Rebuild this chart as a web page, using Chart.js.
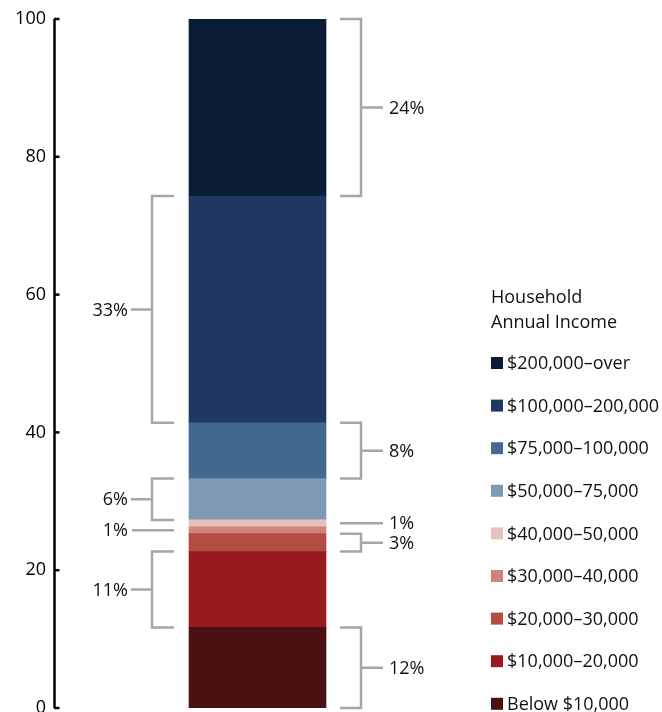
<!DOCTYPE html>
<html>
<head>
<meta charset="utf-8">
<script src="https://cdn.jsdelivr.net/npm/chart.js@4"></script>
<style>
  body { margin: 0; background: #fff; }
</style>
</head>
<body>
<canvas id="incomeChart" width="662" height="712"></canvas>
<script>
// segments listed bottom to top
const incomeLabels = ['Below $10,000', '$10,000–20,000', '$20,000–30,000', '$30,000–40,000',
                      '$40,000–50,000', '$50,000–75,000', '$75,000–100,000', '$100,000–200,000', '$200,000–over'];
const shareValues = [11.7, 11.0, 2.6, 1.0, 1.0, 6.0, 8.1, 32.9, 25.7];
const barColors = ['#4a1113', '#9a1b1f', '#b54c44', '#cd847e', '#e6c2bf',
                   '#7f9ab4', '#436990', '#1f3762', '#0b1d36'];
const yTicks = [0, 20, 40, 60, 80, 100];

// callouts, one per segment
const calloutTexts = ['12%', '11%', '3%', '1%', '1%', '6%', '8%', '33%', '24%'];
const calloutSides = ['right', 'left', 'right', 'left', 'right', 'left', 'right', 'left', 'right'];
const calloutKinds = ['bracket', 'bracket', 'bracket', 'line', 'line', 'bracket', 'bracket', 'bracket', 'bracket'];

const legendTitle = ['Household', 'Annual Income'];
const FONT = '"Open Sans", sans-serif';

const calloutPlugin = {
    id: 'callouts',
    afterDraw(chart) {
        const ctx = chart.ctx;
        const y = chart.scales.y;
        ctx.save();

        // axis line with inward ticks
        ctx.strokeStyle = '#000';
        ctx.lineWidth = 2.5;
        ctx.beginPath();
        ctx.moveTo(54.5, y.getPixelForValue(100));
        ctx.lineTo(54.5, y.getPixelForValue(0));
        ctx.stroke();
        ctx.lineWidth = 2.5;
        yTicks.forEach(function(t) {
            const py = y.getPixelForValue(t);
            ctx.beginPath();
            ctx.moveTo(54, py);
            ctx.lineTo(59.5, py);
            ctx.stroke();
        });

        // brackets
        ctx.strokeStyle = '#a6a6a6';
        ctx.lineWidth = 2.5;
        ctx.fillStyle = '#111';
        ctx.font = '18px ' + FONT;
        ctx.textBaseline = 'middle';
        let base = 0;
        shareValues.forEach(function(v, i) {
            const top = y.getPixelForValue(base + v);
            const bottom = y.getPixelForValue(base);
            const mid = (top + bottom) / 2;
            base += v;
            const left = calloutSides[i] === 'left';
            ctx.beginPath();
            if (calloutKinds[i] === 'line') {
                if (left) { ctx.moveTo(174, mid); ctx.lineTo(132, mid); }
                else { ctx.moveTo(340, mid); ctx.lineTo(383, mid); }
            } else if (left) {
                ctx.moveTo(174, top); ctx.lineTo(152, top); ctx.lineTo(152, bottom); ctx.lineTo(174, bottom);
                ctx.moveTo(152, mid); ctx.lineTo(131, mid);
            } else {
                ctx.moveTo(340, top); ctx.lineTo(361, top); ctx.lineTo(361, bottom); ctx.lineTo(340, bottom);
                ctx.moveTo(361, mid); ctx.lineTo(383, mid);
            }
            ctx.stroke();
            ctx.textAlign = left ? 'right' : 'left';
            ctx.fillText(calloutTexts[i], left ? 128 : 389, mid + 1);
        });

        // legend, top item first
        ctx.textAlign = 'left';
        ctx.fillStyle = '#111';
        ctx.fillText(legendTitle[0], 491, 298);
        ctx.fillText(legendTitle[1], 491, 323);
        for (let k = 0; k < incomeLabels.length; k++) {
            const i = incomeLabels.length - 1 - k;
            const cy = 363 + k * 42.6;
            ctx.fillStyle = barColors[i];
            ctx.fillRect(491, cy - 6, 12, 12);
            ctx.fillStyle = '#111';
            ctx.fillText(incomeLabels[i], 507, cy + 1);
        }
        ctx.restore();
    }
};

const datasets = incomeLabels.map(function(label, i) {
    return {
        label: label,
        data: [shareValues[i]],
        backgroundColor: barColors[i],
        borderWidth: 0,
        barThickness: 137
    };
});

new Chart(document.getElementById('incomeChart'), {
    type: 'bar',
    data: { labels: [''], datasets: datasets },
    options: {
        responsive: false,
        animation: false,
        layout: { padding: { top: 19, bottom: 4, left: 0, right: 202 } },
        plugins: { legend: { display: false }, tooltip: { enabled: false } },
        scales: {
            x: { stacked: true, display: false },
            y: {
                stacked: true,
                min: 0,
                max: 100,
                afterBuildTicks: function(scale) {
                    scale.ticks = yTicks.map(function(v) { return { value: v }; });
                },
                afterFit: function(scale) {
                    scale.width = 55;
                    scale.paddingTop = 0;
                    scale.paddingBottom = 0;
                },
                grid: { display: false, drawTicks: false },
                border: { display: false },
                ticks: {
                    padding: 9,
                    color: '#000',
                    font: { size: 18, family: FONT }
                }
            }
        }
    },
    plugins: [calloutPlugin]
});
</script>
</body>
</html>
